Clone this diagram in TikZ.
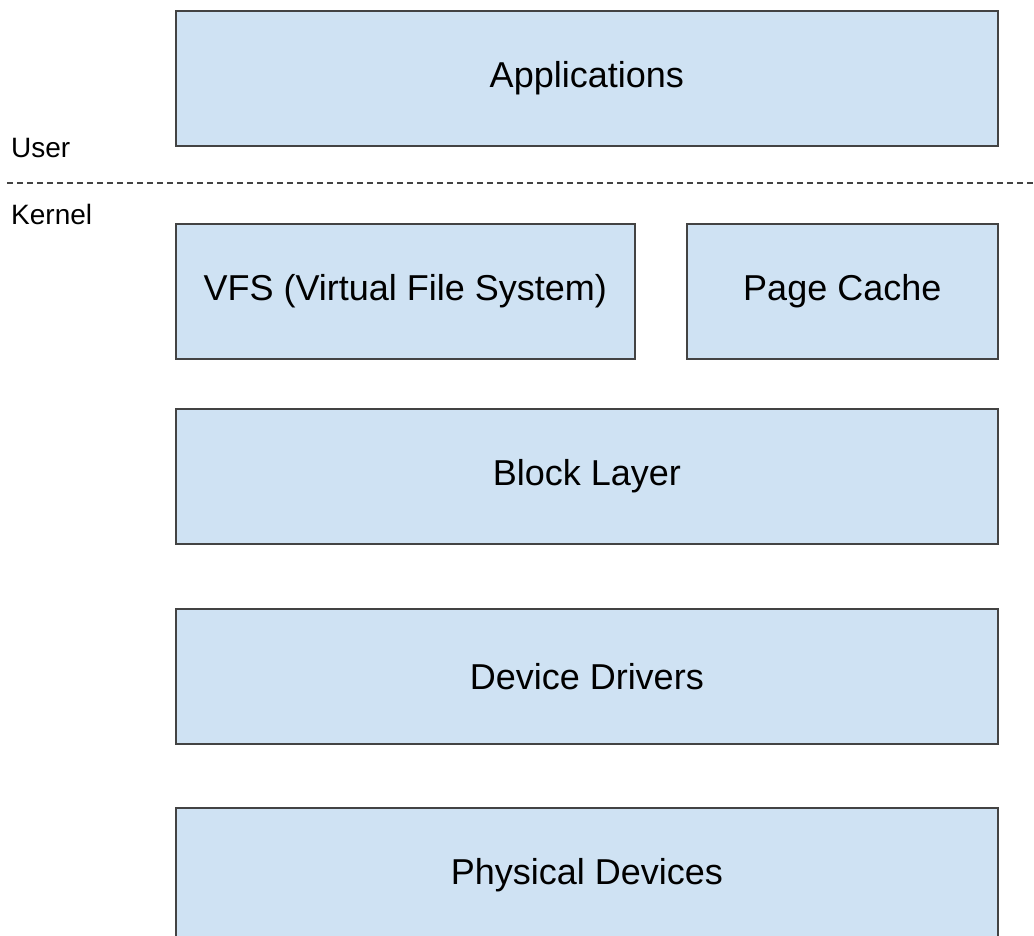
\documentclass[tikz,border=0pt]{standalone}
\usepackage{fontspec}
\setmainfont{Liberation Sans}
\definecolor{layerfill}{HTML}{CFE2F3}
\definecolor{layerline}{HTML}{434343}
\begin{document}
\begin{tikzpicture}[x=1pt,y=-1pt,
  layer/.style={draw=layerline, fill=layerfill, line width=1.6pt,
    anchor=north west, inner sep=0pt, minimum height=135pt,
    font=\fontsize{36}{42}\selectfont},
  side/.style={anchor=base west, inner sep=0pt,
    font=\fontsize{28}{32}\selectfont}]
  \clip (0,0) rectangle (1034,936);
  \fill[white] (0,0) rectangle (1034,936);

  % user space
  \node[layer, minimum width=822pt] (apps) at (175,10) {Applications};

  % user/kernel boundary
  \coordinate (bl) at (7,183);
  \coordinate (br) at (1036,183);
  \draw[layerline, line width=1.2pt, dash pattern=on 6pt off 4pt] (bl) -- (br);
  \node[side] (user) at (11,158) {User};
  \node[side] (kernel) at (11,225) {Kernel};

  % kernel layers
  \node[layer, minimum width=459pt] (vfs) at (175,223) {VFS (Virtual File System)};
  \node[layer, minimum width=311pt] (cache) at (686,223) {Page Cache};
  \node[layer, minimum width=822pt] (block) at (175,408) {Block Layer};
  \node[layer, minimum width=822pt] (drivers) at (175,608) {Device Drivers};
  \node[layer, minimum width=822pt] (phys) at (175,807) {Physical Devices};
\end{tikzpicture}
\end{document}
